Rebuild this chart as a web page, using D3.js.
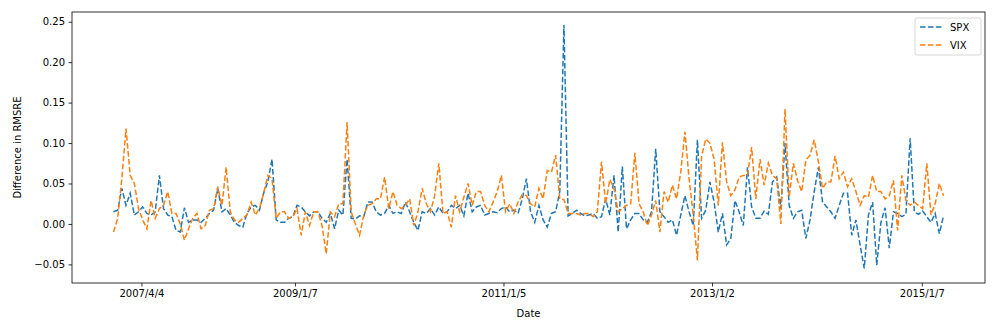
<!DOCTYPE html>
<html lang="en">
<head>
    <meta charset="UTF-8">
    <title>Difference in RMSRE</title>
    <script src="https://d3js.org/d3.v7.min.js"></script>
    <style>
        body { margin: 0; background: #fff; }
        svg text { font-family: "DejaVu Sans", sans-serif; }
    </style>
</head>
<body>
    <div id="chart"></div>

    <script>
        // sampled values, roughly every other week
        const spx = [
            0.015, 0.017, 0.044, 0.023, 0.038, 0.011, 0.015, 0.021, 0.013, 0.011,
            0.015, 0.060, 0.019, 0.011, 0.009, -0.008, -0.010, 0.020, 0.002, 0.005,
            0.005, 0.002, 0.007, 0.013, 0.017, 0.044, 0.015, 0.019, 0.011, 0.002,
            -0.002, -0.004, 0.013, 0.021, 0.023, 0.017, 0.038, 0.052, 0.080, 0.005,
            0.002, 0.002, 0.007, 0.009, 0.023, 0.021, 0.015, 0.010, 0.015, 0.015,
            0.007, 0.002, 0.013, -0.006, 0.017, 0.011, 0.080, 0.007, 0.006, 0.010,
            0.009, 0.027, 0.027, 0.015, 0.011, 0.013, 0.023, 0.013, 0.015, 0.013,
            0.027, 0.015, 0.002, -0.008, 0.015, 0.013, 0.019, 0.011, 0.021, 0.013,
            0.015, 0.023, 0.019, 0.023, 0.010, 0.038, 0.015, 0.021, 0.023, 0.011,
            0.013, 0.015, 0.014, 0.019, 0.021, 0.015, 0.017, 0.013, 0.031, 0.056,
            0.015, 0.002, 0.023, 0.005, -0.004, 0.013, 0.015, 0.040, 0.246, 0.010,
            0.013, 0.017, 0.013, 0.010, 0.011, 0.013, 0.007, 0.009, 0.031, 0.011,
            0.060, -0.010, 0.071, -0.006, 0.005, 0.013, 0.013, 0.005, 0.002, 0.015,
            0.093, 0.015, 0.009, 0.002, 0.005, -0.014, 0.011, 0.035, 0.015, -0.002,
            0.104, 0.007, 0.017, 0.052, 0.027, -0.010, 0.013, -0.026, -0.018, 0.029,
            0.015, -0.002, 0.070, 0.021, 0.007, 0.007, 0.016, 0.012, 0.052, 0.058,
            0.019, 0.100, 0.023, 0.007, 0.015, 0.017, -0.018, 0.005, 0.040, 0.070,
            0.027, 0.021, 0.015, 0.007, 0.023, 0.038, 0.038, -0.014, 0.005, -0.026,
            -0.055, 0.011, 0.027, -0.051, 0.002, 0.020, -0.030, 0.015, 0.013, 0.009,
            0.012, 0.106, 0.015, 0.012, 0.016, 0.009, 0.002, 0.013, -0.012, 0.010
        ];

        const vix = [
            -0.010, 0.007, 0.056, 0.118, 0.060, 0.050, 0.019, 0.005, -0.006, 0.029,
            0.007, 0.019, 0.023, 0.040, 0.013, 0.013, 0.000, -0.020, -0.006, 0.007,
            0.013, -0.006, -0.002, 0.017, 0.019, 0.046, 0.023, 0.070, 0.015, 0.005,
            0.002, 0.007, 0.011, 0.027, 0.011, 0.019, 0.038, 0.060, 0.056, 0.007,
            0.015, 0.015, 0.007, 0.009, 0.019, -0.014, 0.015, -0.002, 0.015, 0.015,
            -0.002, -0.037, 0.015, 0.009, 0.025, 0.025, 0.126, 0.015, 0.000, -0.014,
            0.011, 0.023, 0.025, 0.031, 0.031, 0.058, 0.019, 0.040, 0.023, 0.019,
            0.023, 0.031, -0.002, 0.015, 0.044, 0.025, 0.015, 0.035, 0.075, 0.013,
            0.015, -0.004, 0.035, 0.015, 0.033, 0.050, 0.023, 0.040, 0.040, 0.023,
            0.015, 0.027, 0.040, 0.060, 0.015, 0.025, 0.013, 0.027, 0.036, 0.035,
            0.025, 0.021, 0.044, 0.031, 0.066, 0.064, 0.085, 0.031, 0.030, 0.013,
            0.013, 0.013, 0.011, 0.013, 0.013, 0.009, 0.015, 0.077, 0.025, 0.055,
            0.044, 0.015, 0.019, 0.023, 0.025, 0.088, 0.025, 0.015, -0.002, 0.011,
            0.029, -0.010, 0.040, 0.027, 0.048, 0.031, 0.064, 0.114, 0.056, 0.011,
            -0.045, 0.084, 0.105, 0.100, 0.080, 0.023, 0.101, 0.052, 0.035, 0.042,
            0.058, 0.060, 0.060, 0.095, 0.031, 0.080, 0.048, 0.075, 0.060, 0.056,
            0.000, 0.142, 0.033, 0.075, 0.054, 0.040, 0.079, 0.085, 0.104, 0.077,
            0.044, 0.052, 0.052, 0.084, 0.056, 0.064, 0.046, 0.056, 0.040, 0.023,
            0.035, 0.033, 0.060, 0.040, 0.040, 0.031, 0.035, 0.054, -0.008, 0.060,
            0.029, 0.023, 0.027, 0.023, 0.019, 0.075, 0.011, 0.025, 0.050, 0.035
        ];

        // tick positions are sample indices
        const tickIdx = [6.7, 43.5, 93.5, 143.5, 193.8];
        const tickLabels = ["2007/4/4", "2009/1/7", "2011/1/5", "2013/1/2", "2015/1/7"];
        const yTicks = [-0.05, 0.00, 0.05, 0.10, 0.15, 0.20, 0.25];

        const seriesNames = ["SPX", "VIX"];
        const colors = ["#1f77b4", "#ff7f0e"];

        const W = 997, H = 332;
        const margin = { top: 12, right: 12, bottom: 49, left: 72 };
        const width = W - margin.left - margin.right;
        const height = H - margin.top - margin.bottom;

        const svg = d3.select("#chart")
            .append("svg")
            .attr("width", W)
            .attr("height", H);

        const g = svg.append("g")
            .attr("transform", `translate(${margin.left},${margin.top})`);

        const n = spx.length;
        const pad = 0.05 * (n - 1);
        const x = d3.scaleLinear()
            .domain([-pad, n - 1 + pad])
            .range([0, width]);

        const y = d3.scaleLinear()
            .domain([-0.073, 0.262])
            .range([height, 0]);

        const line = d3.line()
            .x((d, i) => x(i))
            .y(d => y(d));

        g.append("g")
            .selectAll("path")
            .data([spx, vix])
            .join("path")
            .attr("fill", "none")
            .attr("stroke", (d, i) => colors[i])
            .attr("stroke-width", 1.5)
            .attr("stroke-dasharray", "5.55,2.4")
            .attr("d", line);

        // axes
        const xAxis = g.append("g")
            .attr("transform", `translate(0,${height})`)
            .call(d3.axisBottom(x)
                .tickValues(tickIdx)
                .tickFormat((d, i) => tickLabels[i])
                .tickSize(3.5)
                .tickPadding(3.5));

        const yAxis = g.append("g")
            .call(d3.axisLeft(y)
                .tickValues(yTicks)
                .tickFormat(d3.format(".2f"))
                .tickSize(3.5)
                .tickPadding(3.5));

        [xAxis, yAxis].forEach(a => {
            a.select(".domain").remove();
            a.selectAll("line").attr("stroke", "#000").attr("stroke-width", 0.8);
            a.selectAll("text").attr("font-size", 10).attr("fill", "#000")
                .attr("font-family", "DejaVu Sans, sans-serif");
        });

        g.append("rect")
            .attr("width", width)
            .attr("height", height)
            .attr("fill", "none")
            .attr("stroke", "#000")
            .attr("stroke-width", 0.8);

        svg.append("text")
            .attr("x", margin.left + width / 2)
            .attr("y", 317)
            .attr("text-anchor", "middle")
            .attr("font-size", 10)
            .text("Date");

        svg.append("text")
            .attr("transform", `translate(21,${margin.top + height / 2}) rotate(-90)`)
            .attr("text-anchor", "middle")
            .attr("font-size", 10)
            .text("Difference in RMSRE");

        // legend
        const legend = svg.append("g").attr("transform", "translate(915,18)");
        legend.append("rect")
            .attr("width", 66)
            .attr("height", 37)
            .attr("rx", 2)
            .attr("fill", "#fff")
            .attr("fill-opacity", 0.8)
            .attr("stroke", "#ccc")
            .attr("stroke-width", 0.8);

        seriesNames.forEach((name, i) => {
            const ly = 9 + i * 18;
            legend.append("line")
                .attr("x1", 5).attr("x2", 27)
                .attr("y1", ly).attr("y2", ly)
                .attr("stroke", colors[i])
                .attr("stroke-width", 1.5)
                .attr("stroke-dasharray", "5.55,2.4");
            legend.append("text")
                .attr("x", 35)
                .attr("y", ly + 3.5)
                .attr("font-size", 10)
                .text(name);
        });
    </script>
</body>
</html>
